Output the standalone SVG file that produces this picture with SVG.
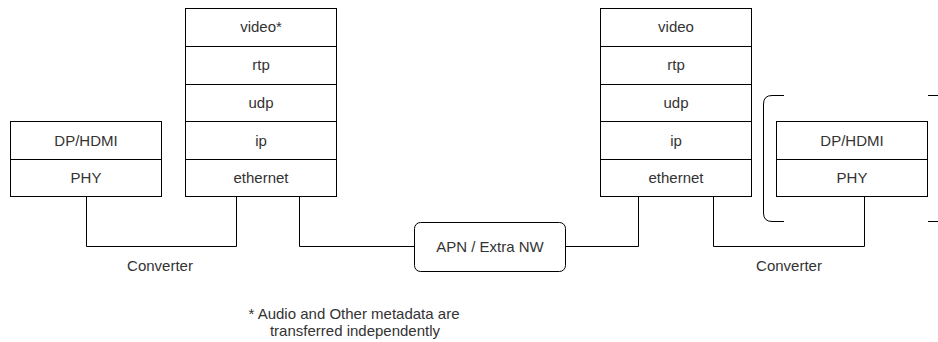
<svg xmlns="http://www.w3.org/2000/svg" width="938" height="342" viewBox="0 0 938 342">
<style>
.box{fill:#fff;stroke:#000;stroke-width:1}
.ln{fill:none;stroke:#000;stroke-width:1}
text{font-family:"Liberation Sans",Arial,sans-serif;font-size:15px;fill:#333;text-anchor:middle}
</style>
<rect width="938" height="342" fill="#fff"/>
<g id="connectors">
<path class="ln" d="M86.5 196.5 V246.5 H236.5 V196.5"/>
<path class="ln" d="M299.5 196.5 V246.5 H414.5"/>
<path class="ln" d="M565.5 246.5 H638.5 V196.5"/>
<path class="ln" d="M713.5 196.5 V246.5 H864.5 V196.5"/>
</g>
<g id="left-phy-stack">
<rect class="box" x="10.5" y="121.5" width="151" height="75"/>
<line class="ln" x1="10.5" y1="159.5" x2="161.5" y2="159.5"/>
<text x="86" y="145.5">DP/HDMI</text>
<text x="86" y="183">PHY</text>
</g>
<g id="left-ip-stack">
<rect class="box" x="185.5" y="8.5" width="151" height="188"/>
<line class="ln" x1="185.5" y1="46.5" x2="336.5" y2="46.5"/>
<line class="ln" x1="185.5" y1="84.5" x2="336.5" y2="84.5"/>
<line class="ln" x1="185.5" y1="121.5" x2="336.5" y2="121.5"/>
<line class="ln" x1="185.5" y1="159.5" x2="336.5" y2="159.5"/>
<text x="261" y="32">video*</text>
<text x="261" y="70">rtp</text>
<text x="261" y="108">udp</text>
<text x="261" y="145.5">ip</text>
<text x="261" y="183">ethernet</text>
</g>
<g id="apn">
<rect class="box" x="414.5" y="222.5" width="151" height="49" rx="6" ry="6"/>
<text x="490" y="252">APN / Extra NW</text>
</g>
<g id="right-ip-stack">
<rect class="box" x="600.5" y="8.5" width="151" height="188"/>
<line class="ln" x1="600.5" y1="46.5" x2="751.5" y2="46.5"/>
<line class="ln" x1="600.5" y1="84.5" x2="751.5" y2="84.5"/>
<line class="ln" x1="600.5" y1="121.5" x2="751.5" y2="121.5"/>
<line class="ln" x1="600.5" y1="159.5" x2="751.5" y2="159.5"/>
<text x="676" y="32">video</text>
<text x="676" y="70">rtp</text>
<text x="676" y="108">udp</text>
<text x="676" y="145.5">ip</text>
<text x="676" y="183">ethernet</text>
</g>
<g id="bracket">
<path class="ln" d="M784 95.5 H772 Q763.5 95.5 763.5 104 V213 Q763.5 221.5 772 221.5 H784"/>
<path class="ln" d="M928 95.5 H938 M928 221.5 H938"/>
</g>
<g id="right-phy-stack">
<rect class="box" x="776.5" y="121.5" width="151" height="75"/>
<line class="ln" x1="776.5" y1="159.5" x2="927.5" y2="159.5"/>
<text x="852" y="145.5">DP/HDMI</text>
<text x="852" y="183">PHY</text>
</g>
<g id="labels">
<text x="160" y="271">Converter</text>
<text x="789" y="271">Converter</text>
<text x="354" y="319">* Audio and Other metadata are</text>
<text x="355" y="336">transferred independently</text>
</g>
</svg>
